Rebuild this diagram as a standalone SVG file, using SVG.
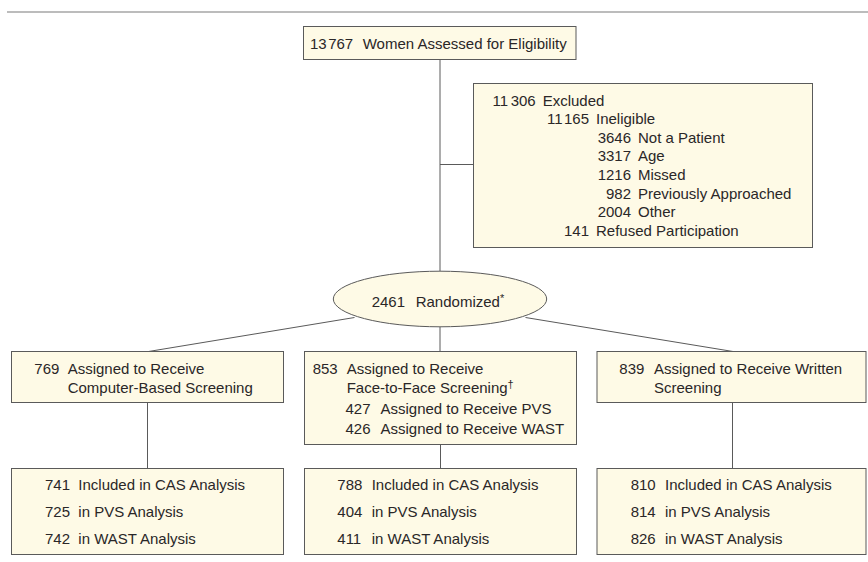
<svg xmlns="http://www.w3.org/2000/svg" width="868" height="562" viewBox="0 0 868 562">
<style>
.box{fill:#fefae6;stroke:#5a5a5a;stroke-width:1}
.ln{stroke:#5a5a5a;stroke-width:1;fill:none}
text{font-family:"Liberation Sans",Arial,sans-serif;font-size:15px;fill:#2a2728}
.r{text-anchor:end}
.sup{font-size:11px}
</style>
<rect width="868" height="562" fill="#ffffff"/>
<line x1="7" y1="12" x2="868" y2="12" stroke="#7a7a7a" stroke-width="1.2"/>
<g id="connectors">
<line class="ln" x1="440" y1="59.5" x2="440" y2="271"/>
<line class="ln" x1="440" y1="164.5" x2="473.5" y2="164.5"/>
<line class="ln" x1="440" y1="326.8" x2="440" y2="351.5"/>
<line class="ln" x1="354.5" y1="317.5" x2="148.5" y2="351.5"/>
<line class="ln" x1="525.5" y1="317.5" x2="733" y2="351.5"/>
<line class="ln" x1="147.5" y1="402.5" x2="147.5" y2="468.5"/>
<line class="ln" x1="440.5" y1="444.5" x2="440.5" y2="468.5"/>
<line class="ln" x1="732.5" y1="402.5" x2="732.5" y2="468.5"/>
</g>
<g id="assessed">
<rect class="box" x="303.5" y="26.5" width="272.5" height="33"/>
<text x="310" y="49">13<tspan dx="1.5">767</tspan></text>
<text x="362.7" y="49">Women Assessed for Eligibility</text>
</g>
<g id="excluded">
<rect class="box" x="473.5" y="83.5" width="339" height="164"/>
<text class="r" x="535.7" y="105.5">11<tspan dx="2.5">306</tspan></text><text x="542.7" y="105.5">Excluded</text>
<text class="r" x="589" y="124.1">11<tspan dx="2.5">165</tspan></text><text x="596" y="124.1">Ineligible</text>
<text class="r" x="631" y="142.8">3646</text><text x="638" y="142.8">Not a Patient</text>
<text class="r" x="631" y="161.4">3317</text><text x="638" y="161.4">Age</text>
<text class="r" x="631" y="180">1216</text><text x="638" y="180">Missed</text>
<text class="r" x="631" y="198.7">982</text><text x="638" y="198.7">Previously Approached</text>
<text class="r" x="631" y="217.3">2004</text><text x="638" y="217.3">Other</text>
<text class="r" x="589" y="236">141</text><text x="596" y="236">Refused Participation</text>
</g>
<g id="randomized">
<ellipse class="box" cx="440" cy="299" rx="106.7" ry="27.8"/>
<text x="371.7" y="306.5">2461</text>
<text x="415.7" y="306.5">Randomized<tspan class="sup" dy="-5">*</tspan></text>
</g>
<g id="computer">
<rect class="box" x="11.5" y="351.5" width="272" height="51"/>
<text x="34.3" y="374">769</text>
<text x="67.7" y="374">Assigned to Receive</text>
<text x="67.7" y="392.5">Computer-Based Screening</text>
</g>
<g id="face">
<rect class="box" x="304.5" y="351.5" width="272" height="93"/>
<text x="312.7" y="374">853</text>
<text x="346.7" y="374">Assigned to Receive</text>
<text x="346.7" y="392.5">Face-to-Face Screening<tspan class="sup" dy="-5">†</tspan></text>
<text x="345.5" y="413.5">427</text>
<text x="380.5" y="413.5">Assigned to Receive PVS</text>
<text x="345.5" y="433.5">426</text>
<text x="380.5" y="433.5">Assigned to Receive WAST</text>
</g>
<g id="written">
<rect class="box" x="597" y="351.5" width="269" height="51"/>
<text x="619.3" y="374">839</text>
<text x="654" y="374">Assigned to Receive Written</text>
<text x="654" y="392.5">Screening</text>
</g>
<g id="analysis-computer">
<rect class="box" x="11.5" y="468.5" width="272" height="86"/>
<text x="45" y="490">741</text><text x="78.3" y="490">Included in CAS Analysis</text>
<text x="45" y="517">725</text><text x="78.3" y="517">in PVS Analysis</text>
<text x="45" y="544">742</text><text x="78.3" y="544">in WAST Analysis</text>
</g>
<g id="analysis-face">
<rect class="box" x="304.5" y="468.5" width="272" height="86"/>
<text x="337.3" y="490">788</text><text x="371.7" y="490">Included in CAS Analysis</text>
<text x="337.3" y="517">404</text><text x="371.7" y="517">in PVS Analysis</text>
<text x="337.3" y="544">411</text><text x="371.7" y="544">in WAST Analysis</text>
</g>
<g id="analysis-written">
<rect class="box" x="597" y="468.5" width="269" height="86"/>
<text x="630.7" y="490">810</text><text x="665" y="490">Included in CAS Analysis</text>
<text x="630.7" y="517">814</text><text x="665" y="517">in PVS Analysis</text>
<text x="630.7" y="544">826</text><text x="665" y="544">in WAST Analysis</text>
</g>
</svg>
